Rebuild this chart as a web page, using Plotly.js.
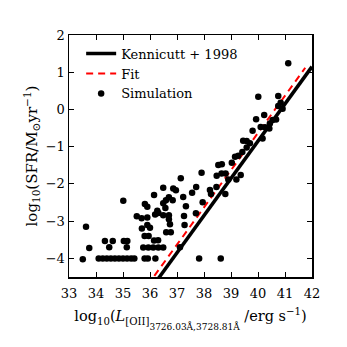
<!DOCTYPE html>
<html>
<head>
<meta charset="utf-8">
<script src="https://cdn.plot.ly/plotly-3.0.1.min.js"></script>
<style>
  html, body { margin: 0; padding: 0; background: #fff; }
  #chart { width: 347px; height: 347px; }
</style>
</head>
<body>
<div id="chart"></div>
<script>
// Simulated galaxies: log10 L[OII] (erg/s) and log10 SFR (Msun/yr)
const simLogL = [
  33.51, 33.75, 33.63,
  34.33, 34.62, 35.03, 35.16,
  34.49, 35.14,
  34.10, 34.25, 34.40, 34.55, 34.70, 34.85, 35.00, 35.15, 35.30, 35.42, 35.80, 35.92, 36.20,
  37.82, 38.62,
  35.75, 35.94, 36.12, 36.31, 36.49, 37.11,
  36.15, 36.30,
  35.80, 35.95,
  35.70, 35.90, 36.00,
  36.60, 36.77,
  36.70, 36.74, 37.28,
  35.51, 35.69, 35.90, 36.19, 36.31, 36.49, 36.70, 37.26, 37.70,
  36.27, 36.57,
  35.81, 35.90, 36.49, 36.59, 36.84, 37.33, 35.01, 37.95,
  36.15, 36.70, 37.23, 37.56,
  36.49, 36.86, 36.96, 37.71,
  37.14, 37.91,
  38.53, 38.66, 38.47, 38.65, 38.80, 38.90,
  39.03, 39.15, 39.27, 39.42, 39.36, 39.20,
  38.22, 38.46, 38.79, 38.26,
  39.45, 39.58, 39.70, 39.58, 39.80,
  40.17, 40.10, 40.26, 40.42, 40.44, 40.54, 40.67,
  39.93, 40.23, 40.75, 40.91, 40.84, 40.75, 40.01,
  41.12
];
const simLogSFR = [
  -4.02, -3.72, -3.15,
  -3.53, -3.53, -3.53, -3.53,
  -3.70, -3.70,
  -4.00, -4.00, -4.00, -4.00, -4.00, -4.00, -4.00, -4.00, -4.00, -4.00, -4.00, -4.00, -4.00,
  -4.00, -4.00,
  -3.71, -3.71, -3.71, -3.71, -3.71, -3.70,
  -3.52, -3.51,
  -3.40, -3.40,
  -3.20, -3.10, -3.18,
  -3.30, -3.30,
  -2.95, -3.08, -3.10,
  -2.87, -2.92, -2.90, -2.82, -2.78, -2.84, -2.84, -2.86, -2.79,
  -2.72, -2.65,
  -2.54, -2.61, -2.52, -2.44, -2.44, -2.60, -2.45, -2.49,
  -2.30, -2.36, -2.35, -2.24,
  -2.10, -2.12, -2.17, -2.08,
  -1.85, -1.70,
  -1.49, -1.47, -1.78, -1.72, -1.72, -1.88,
  -1.43, -1.27, -1.24, -1.14, -1.76, -1.88,
  -2.16, -2.08, -2.27, -2.27,
  -0.84, -0.85, -0.91, -1.02, -0.57,
  -0.78, -0.47, -0.48, -0.51, -0.38, -0.28, -0.27,
  -0.26, -0.15, 0.09, 0.02, 0.18, 0.36, 0.34,
  1.24
];

// Kennicutt (1998) calibration: log SFR = log L[OII] - 40.85
const kennicuttSlope = 1.0;
const kennicuttIntercept = -40.85;
const kennicuttLogL = [36.2, 42.0];

// Linear fit to the simulated sample
const fitSlope = 1.0;
const fitIntercept = -40.63;
const fitLogL = [35.9, 41.75];

const serif = "DejaVu Serif";

const traces = [
  {
    x: kennicuttLogL,
    y: kennicuttLogL.map(v => kennicuttSlope * v + kennicuttIntercept),
    mode: "lines",
    name: "Kennicutt + 1998",
    line: { color: "#000", width: 3.5 }
  },
  {
    x: fitLogL,
    y: fitLogL.map(v => fitSlope * v + fitIntercept),
    mode: "lines",
    name: "Fit",
    line: { color: "#ff0000", width: 2, dash: "7px,5px" }
  },
  {
    x: simLogL,
    y: simLogSFR,
    mode: "markers",
    name: "Simulation",
    marker: { color: "#000", size: 6.5 },
    cliponaxis: true
  }
];

const axisCommon = {
  showline: true,
  linecolor: "#000",
  linewidth: 1.5,
  mirror: "allticks",
  ticks: "inside",
  ticklen: 5,
  tickwidth: 1,
  tickcolor: "#000",
  showgrid: false,
  zeroline: false,
  dtick: 1,
  tickfont: { family: serif, size: 13, color: "#000" }
};

const layout = {
  width: 347,
  height: 347,
  margin: { l: 69, r: 35, t: 35, b: 70 },
  paper_bgcolor: "#fff",
  plot_bgcolor: "#fff",
  showlegend: true,
  legend: {
    x: 0.05, y: 0.985, xanchor: "left", yanchor: "top",
    bgcolor: "rgba(0,0,0,0)",
    borderwidth: 0,
    font: { family: serif, size: 13, color: "#000" },
    tracegroupgap: 0,
    itemwidth: 30
  },
  xaxis: Object.assign({}, axisCommon, {
    range: [33, 42],
    tick0: 33,
    ticklabelstandoff: 4,
    title: {
      text: "log<sub>10</sub>(<i>L</i><sub>[OII]<span style=\"font-size:9px;baseline-shift:-5px\">3726.03Å,3728.81Å</span></sub> /erg s<sup>−1</sup>)",
      font: { family: serif, size: 14.5, color: "#000" },
      standoff: 11
    }
  }),
  yaxis: Object.assign({}, axisCommon, {
    range: [-4.5, 2],
    tick0: -4,
    title: {
      text: "log<sub>10</sub>(SFR/M<sub>⊙</sub>yr<sup>−1</sup>)",
      font: { family: serif, size: 15, color: "#000" },
      standoff: 4
    }
  })
};

Plotly.newPlot("chart", traces, layout, { staticPlot: true, displayModeBar: false });
</script>
</body>
</html>
